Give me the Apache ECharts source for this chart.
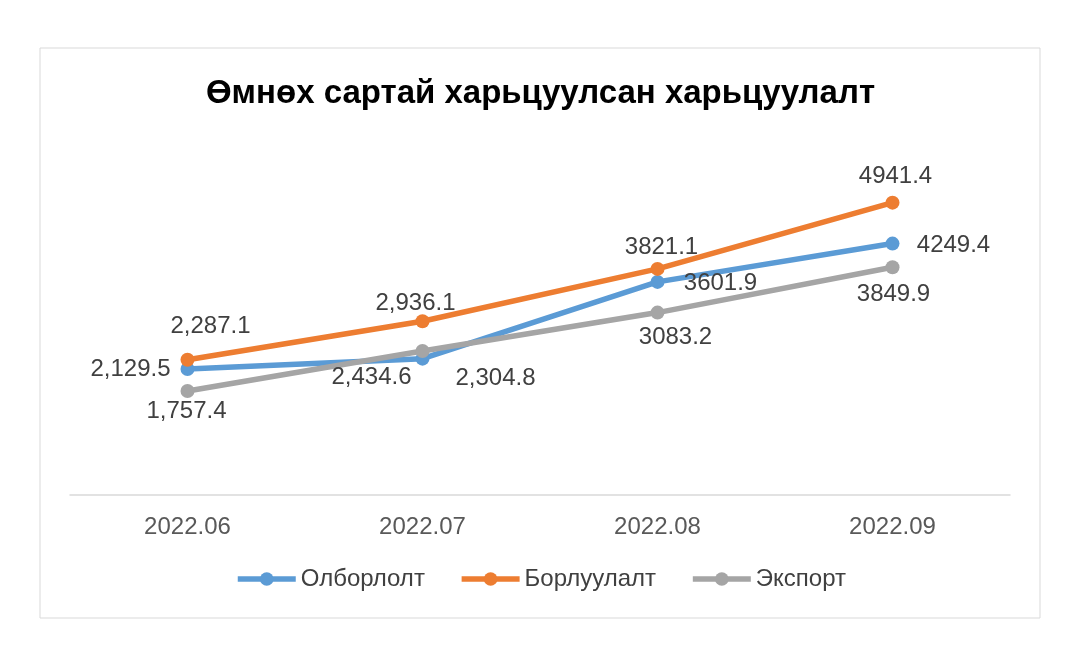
<!DOCTYPE html>
<html>
<head>
<meta charset="utf-8">
<script src="https://cdn.jsdelivr.net/npm/echarts@6/dist/echarts.min.js"></script>
<style>
  html, body { margin: 0; padding: 0; background: #fff; }
  #chart { width: 1081px; height: 671px; }
</style>
</head>
<body>
<div id="chart"></div>
<script>
const categories = ['2022.06', '2022.07', '2022.08', '2022.09'];
const mining = [2129.5, 2304.8, 3601.9, 4249.4];
const sales = [2287.1, 2936.1, 3821.1, 4941.4];
const exportVals = [1757.4, 2434.6, 3083.2, 3849.9];
const seriesNames = ['Олборлолт', 'Борлуулалт', 'Экспорт'];

// label centre relative to its point, px
const miningOffsets = [[-57, 0], [73, 20], [63, 1], [61, 2]];
const salesOffsets = [[23, -33], [-7, -18], [4, -22], [3, -26]];
const exportOffsets = [[-1, 20], [-51, 26], [18, 25], [1, 27]];

const FONT = 'Liberation Sans, Arial, sans-serif';

// comma formatting only on the first two months, like the source
const fmt = (v, i) => i < 2 ? v.toLocaleString('en-US', { minimumFractionDigits: 1 }) : v.toFixed(1);

const build = (vals, offsets) => vals.map((v, i) => ({
  value: v,
  label: { formatter: fmt(v, i), position: 'inside', offset: offsets[i] }
}));

const chart = echarts.init(document.getElementById('chart'));

const lineSeries = (name, color, vals, offsets) => ({
  name: name,
  type: 'line',
  data: build(vals, offsets),
  symbol: 'circle',
  symbolSize: 14,
  lineStyle: { width: 5.5, color: color },
  itemStyle: { color: color },
  label: {
    show: true,
    color: '#404040',
    fontSize: 24,
    fontFamily: FONT
  }
});

const series = [
  lineSeries(seriesNames[0], '#5b9bd5', mining, miningOffsets),
  lineSeries(seriesNames[1], '#ed7d31', sales, salesOffsets),
  lineSeries(seriesNames[2], '#a5a5a5', exportVals, exportOffsets)
];

chart.setOption({
  animation: false,
  title: {
    text: 'Өмнөх сартай харьцуулсан харьцуулалт',
    left: 'center',
    top: 72,
    textStyle: {
      fontSize: 33,
      fontWeight: 'bold',
      color: '#000',
      fontFamily: FONT
    }
  },
  graphic: [{
    type: 'rect',
    shape: { x: 40, y: 48, width: 1000, height: 570 },
    style: { fill: 'none', stroke: '#d9d9d9', lineWidth: 1 },
    silent: true
  }],
  legend: {
    data: seriesNames,
    bottom: 75,
    left: 'center',
    itemWidth: 58,
    itemHeight: 17,
    itemGap: 34,
    lineStyle: { width: 5.5 },
    textStyle: {
      fontSize: 24,
      color: '#404040',
      fontFamily: FONT
    }
  },
  grid: { left: 70, right: 71, top: 140, bottom: 176 },
  xAxis: {
    type: 'category',
    data: categories,
    boundaryGap: true,
    axisLine: { lineStyle: { color: '#d9d9d9', width: 1.5 } },
    axisTick: { show: false },
    axisLabel: {
      color: '#595959',
      fontSize: 24,
      margin: 20,
      fontFamily: FONT
    }
  },
  yAxis: {
    type: 'value',
    min: 0,
    max: 6000,
    interval: 1000,
    show: false
  },
  series: series
});
</script>
</body>
</html>
